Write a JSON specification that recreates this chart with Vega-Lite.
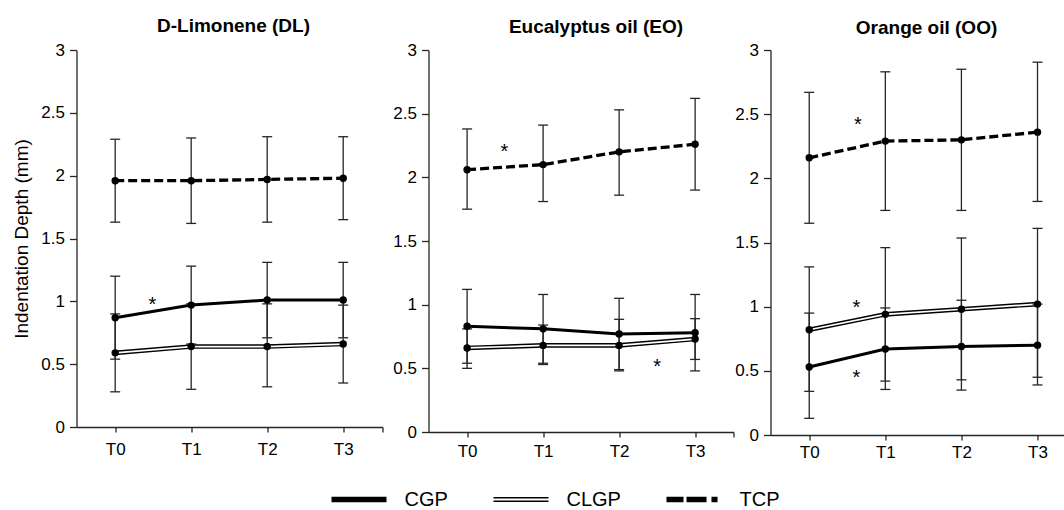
{
  "$schema": "https://vega.github.io/schema/vega-lite/v6.json",
  "background": "white",
  "padding": {"left": 12.5, "top": 17, "right": 0, "bottom": 0},
  "spacing": 0,
  "datasets": {
    "pts": [
      {"oil": "DL", "group": "CGP", "t": 0, "mean": 0.87, "lo": 0.54, "hi": 1.20},
      {"oil": "DL", "group": "CGP", "t": 1, "mean": 0.97, "lo": 0.66, "hi": 1.28},
      {"oil": "DL", "group": "CGP", "t": 2, "mean": 1.01, "lo": 0.71, "hi": 1.31},
      {"oil": "DL", "group": "CGP", "t": 3, "mean": 1.01, "lo": 0.71, "hi": 1.31},
      {"oil": "DL", "group": "CLGP", "t": 0, "mean": 0.59, "lo": 0.28, "hi": 0.90},
      {"oil": "DL", "group": "CLGP", "t": 1, "mean": 0.64, "lo": 0.30, "hi": 0.98},
      {"oil": "DL", "group": "CLGP", "t": 2, "mean": 0.64, "lo": 0.32, "hi": 0.98},
      {"oil": "DL", "group": "CLGP", "t": 3, "mean": 0.66, "lo": 0.35, "hi": 0.97},
      {"oil": "DL", "group": "TCP", "t": 0, "mean": 1.96, "lo": 1.63, "hi": 2.29},
      {"oil": "DL", "group": "TCP", "t": 1, "mean": 1.96, "lo": 1.62, "hi": 2.30},
      {"oil": "DL", "group": "TCP", "t": 2, "mean": 1.97, "lo": 1.63, "hi": 2.31},
      {"oil": "DL", "group": "TCP", "t": 3, "mean": 1.98, "lo": 1.65, "hi": 2.31},
      {"oil": "EO", "group": "CGP", "t": 0, "mean": 0.83, "lo": 0.54, "hi": 1.12},
      {"oil": "EO", "group": "CGP", "t": 1, "mean": 0.81, "lo": 0.54, "hi": 1.08},
      {"oil": "EO", "group": "CGP", "t": 2, "mean": 0.77, "lo": 0.48, "hi": 1.05},
      {"oil": "EO", "group": "CGP", "t": 3, "mean": 0.78, "lo": 0.48, "hi": 1.08},
      {"oil": "EO", "group": "CLGP", "t": 0, "mean": 0.66, "lo": 0.50, "hi": 0.81},
      {"oil": "EO", "group": "CLGP", "t": 1, "mean": 0.68, "lo": 0.53, "hi": 0.84},
      {"oil": "EO", "group": "CLGP", "t": 2, "mean": 0.68, "lo": 0.49, "hi": 0.885},
      {"oil": "EO", "group": "CLGP", "t": 3, "mean": 0.73, "lo": 0.57, "hi": 0.89},
      {"oil": "EO", "group": "TCP", "t": 0, "mean": 2.06, "lo": 1.75, "hi": 2.38},
      {"oil": "EO", "group": "TCP", "t": 1, "mean": 2.10, "lo": 1.81, "hi": 2.41},
      {"oil": "EO", "group": "TCP", "t": 2, "mean": 2.20, "lo": 1.86, "hi": 2.53},
      {"oil": "EO", "group": "TCP", "t": 3, "mean": 2.26, "lo": 1.90, "hi": 2.62},
      {"oil": "OO", "group": "CGP", "t": 0, "mean": 0.53, "lo": 0.13, "hi": 0.95},
      {"oil": "OO", "group": "CGP", "t": 1, "mean": 0.67, "lo": 0.355, "hi": 0.99},
      {"oil": "OO", "group": "CGP", "t": 2, "mean": 0.69, "lo": 0.35, "hi": 1.05},
      {"oil": "OO", "group": "CGP", "t": 3, "mean": 0.70, "lo": 0.39, "hi": 1.02},
      {"oil": "OO", "group": "CLGP", "t": 0, "mean": 0.82, "lo": 0.34, "hi": 1.31},
      {"oil": "OO", "group": "CLGP", "t": 1, "mean": 0.94, "lo": 0.42, "hi": 1.46},
      {"oil": "OO", "group": "CLGP", "t": 2, "mean": 0.98, "lo": 0.43, "hi": 1.535},
      {"oil": "OO", "group": "CLGP", "t": 3, "mean": 1.02, "lo": 0.45, "hi": 1.61},
      {"oil": "OO", "group": "TCP", "t": 0, "mean": 2.16, "lo": 1.65, "hi": 2.67},
      {"oil": "OO", "group": "TCP", "t": 1, "mean": 2.29, "lo": 1.75, "hi": 2.83},
      {"oil": "OO", "group": "TCP", "t": 2, "mean": 2.30, "lo": 1.75, "hi": 2.85},
      {"oil": "OO", "group": "TCP", "t": 3, "mean": 2.36, "lo": 1.82, "hi": 2.905}
    ],
    "stars": [
      {"oil": "DL", "t": 0.49, "y": 1.02, "label": "*"},
      {"oil": "EO", "t": 0.49, "y": 2.25, "label": "*"},
      {"oil": "EO", "t": 2.5, "y": 0.56, "label": "*"},
      {"oil": "OO", "t": 0.64, "y": 2.46, "label": "*"},
      {"oil": "OO", "t": 0.62, "y": 1.04, "label": "*"},
      {"oil": "OO", "t": 0.62, "y": 0.49, "label": "*"}
    ]
  },
  "hconcat": [
    {
      "width": 306, "height": 377,
      "title": {"text": "D-Limonene (DL)", "dx": 4, "offset": 5},
      "data": {"name": "pts"},
      "transform": [{"filter": "datum.oil === 'DL'"}],
      "encoding": {"x": {"field": "t", "type": "quantitative", "scale": {"domain": [-0.509, 3.517], "nice": false, "zero": false}, "axis": {"title": null, "values": [0, 1, 2, 3, 3.517], "labelExpr": "datum.value > 3.2 ? '' : 'T' + datum.value", "tickSize": 5, "labelPadding": 9, "labelFlush": false}}},
      "layer": [
        {"transform": [{"filter": "datum.group === 'CGP'"}], "mark": {"type": "line", "color": "black", "strokeWidth": 3},
         "encoding": {"y": {"field": "mean", "type": "quantitative", "title": "Indentation Depth (mm)", "scale": {"domain": [0, 3], "nice": false}, "axis": {"values": [0, 0.5, 1, 1.5, 2, 2.5, 3], "format": "~g", "tickSize": 7, "labelPadding": 5, "minExtent": 38, "maxExtent": 38, "titlePadding": 7, "titleFontSize": 19, "titleFontWeight": "normal"}}}},
        {"transform": [{"filter": "datum.group === 'TCP'"}], "mark": {"type": "line", "color": "black", "strokeWidth": 3.3, "strokeDash": [9, 4]}, "encoding": {"y": {"field": "mean", "type": "quantitative", "title": "Indentation Depth (mm)"}}},
        {"transform": [{"filter": "datum.group === 'CLGP'"}], "mark": {"type": "line", "color": "black", "strokeWidth": 4.6}, "encoding": {"y": {"field": "mean", "type": "quantitative", "title": "Indentation Depth (mm)"}}},
        {"transform": [{"filter": "datum.group === 'CLGP'"}], "mark": {"type": "line", "color": "white", "strokeWidth": 1.7}, "encoding": {"y": {"field": "mean", "type": "quantitative", "title": "Indentation Depth (mm)"}}},
        {"mark": {"type": "rule", "color": "#262626", "strokeWidth": 1.3}, "encoding": {"y": {"field": "lo", "type": "quantitative", "title": "Indentation Depth (mm)"}, "y2": {"field": "hi"}}},
        {"mark": {"type": "tick", "color": "#262626", "thickness": 1.3, "size": 10, "orient": "horizontal", "opacity": 1}, "encoding": {"y": {"field": "lo", "type": "quantitative", "title": "Indentation Depth (mm)"}}},
        {"mark": {"type": "tick", "color": "#262626", "thickness": 1.3, "size": 10, "orient": "horizontal", "opacity": 1}, "encoding": {"y": {"field": "hi", "type": "quantitative", "title": "Indentation Depth (mm)"}}},
        {"mark": {"type": "point", "filled": true, "color": "black", "strokeWidth": 0, "opacity": 0},
         "encoding": {
           "y": {"field": "mean", "type": "quantitative", "title": "Indentation Depth (mm)"},
           "shape": {"field": "group", "type": "nominal",
             "scale": {"domain": ["CGP", "CLGP", "TCP"], "range": ["M-1,-0.1H1V0.1H-1Z", "M-1,-0.095H1V-0.04H-1ZM-1,0.04H1V0.095H-1Z", "M-1,-0.1H-0.382V0.1H-1ZM-0.273,-0.1H0.455V0.1H-0.273ZM0.636,-0.1H0.855V0.1H0.636Z"]},
             "legend": {"orient": "none", "legendX": 255, "legendY": 422, "direction": "horizontal", "gridAlign": "none", "title": null, "padding": 0, "symbolSize": 3025, "symbolFillColor": "black", "symbolStrokeWidth": 0, "symbolOpacity": 1, "labelFontSize": 20, "labelColor": "black", "labelFont": "Liberation Sans", "labelOffset": 18, "columnPadding": 45}}
         }},
        {"mark": {"type": "circle", "color": "black", "size": 55, "opacity": 1}, "encoding": {"y": {"field": "mean", "type": "quantitative", "title": "Indentation Depth (mm)"}}},
        {"data": {"name": "stars"}, "transform": [{"filter": "datum.oil === 'DL'"}], "mark": {"type": "text", "fontSize": 20, "baseline": "middle", "dy": 6, "color": "black"}, "encoding": {"y": {"field": "y", "type": "quantitative", "title": "Indentation Depth (mm)"}, "text": {"field": "label"}}}
      ]
    },
    {
      "width": 305, "height": 382,
      "title": {"text": "Eucalyptus oil (EO)", "dx": 15, "offset": 4},
      "data": {"name": "pts"},
      "transform": [{"filter": "datum.oil === 'EO'"}],
      "encoding": {"x": {"field": "t", "type": "quantitative", "scale": {"domain": [-0.508, 3.505], "nice": false, "zero": false}, "axis": {"title": null, "values": [0, 1, 2, 3, 3.505], "labelExpr": "datum.value > 3.2 ? '' : 'T' + datum.value", "tickSize": 5, "labelPadding": 6, "labelFlush": false}}},
      "layer": [
        {"transform": [{"filter": "datum.group === 'CGP'"}], "mark": {"type": "line", "color": "black", "strokeWidth": 3},
         "encoding": {"y": {"field": "mean", "type": "quantitative", "title": null, "scale": {"domain": [0, 3], "nice": false}, "axis": {"title": null, "values": [0, 0.5, 1, 1.5, 2, 2.5, 3], "format": "~g", "tickSize": 7, "labelPadding": 5, "minExtent": 45, "maxExtent": 45}}}},
        {"transform": [{"filter": "datum.group === 'TCP'"}], "mark": {"type": "line", "color": "black", "strokeWidth": 3.3, "strokeDash": [9, 4]}, "encoding": {"y": {"field": "mean", "type": "quantitative", "title": null}}},
        {"transform": [{"filter": "datum.group === 'CLGP'"}], "mark": {"type": "line", "color": "black", "strokeWidth": 4.6}, "encoding": {"y": {"field": "mean", "type": "quantitative", "title": null}}},
        {"transform": [{"filter": "datum.group === 'CLGP'"}], "mark": {"type": "line", "color": "white", "strokeWidth": 1.7}, "encoding": {"y": {"field": "mean", "type": "quantitative", "title": null}}},
        {"mark": {"type": "rule", "color": "#262626", "strokeWidth": 1.3}, "encoding": {"y": {"field": "lo", "type": "quantitative", "title": null}, "y2": {"field": "hi"}}},
        {"mark": {"type": "tick", "color": "#262626", "thickness": 1.3, "size": 10, "orient": "horizontal", "opacity": 1}, "encoding": {"y": {"field": "lo", "type": "quantitative", "title": null}}},
        {"mark": {"type": "tick", "color": "#262626", "thickness": 1.3, "size": 10, "orient": "horizontal", "opacity": 1}, "encoding": {"y": {"field": "hi", "type": "quantitative", "title": null}}},
        {"mark": {"type": "circle", "color": "black", "size": 55, "opacity": 1}, "encoding": {"y": {"field": "mean", "type": "quantitative", "title": null}}},
        {"data": {"name": "stars"}, "transform": [{"filter": "datum.oil === 'EO'"}], "mark": {"type": "text", "fontSize": 20, "baseline": "middle", "dy": 6, "color": "black"}, "encoding": {"y": {"field": "y", "type": "quantitative", "title": null}, "text": {"field": "label"}}}
      ]
    },
    {
      "width": 296, "height": 385,
      "title": {"text": "Orange oil (OO)", "dx": 8, "offset": 3},
      "data": {"name": "pts"},
      "transform": [{"filter": "datum.oil === 'OO'"}],
      "encoding": {"x": {"field": "t", "type": "quantitative", "scale": {"domain": [-0.509, 3.381], "nice": false, "zero": false}, "axis": {"title": null, "values": [0, 1, 2, 3], "labelExpr": "'T' + datum.value", "tickSize": 5, "labelPadding": 4, "labelFlush": false}}},
      "layer": [
        {"transform": [{"filter": "datum.group === 'CGP'"}], "mark": {"type": "line", "color": "black", "strokeWidth": 3},
         "encoding": {"y": {"field": "mean", "type": "quantitative", "title": null, "scale": {"domain": [0, 3], "nice": false}, "axis": {"title": null, "values": [0, 0.5, 1, 1.5, 2, 2.5, 3], "format": "~g", "tickSize": 7, "labelPadding": 5, "minExtent": 34, "maxExtent": 34}}}},
        {"transform": [{"filter": "datum.group === 'TCP'"}], "mark": {"type": "line", "color": "black", "strokeWidth": 3.3, "strokeDash": [9, 4]}, "encoding": {"y": {"field": "mean", "type": "quantitative", "title": null}}},
        {"transform": [{"filter": "datum.group === 'CLGP'"}], "mark": {"type": "line", "color": "black", "strokeWidth": 4.6}, "encoding": {"y": {"field": "mean", "type": "quantitative", "title": null}}},
        {"transform": [{"filter": "datum.group === 'CLGP'"}], "mark": {"type": "line", "color": "white", "strokeWidth": 1.7}, "encoding": {"y": {"field": "mean", "type": "quantitative", "title": null}}},
        {"mark": {"type": "rule", "color": "#262626", "strokeWidth": 1.3}, "encoding": {"y": {"field": "lo", "type": "quantitative", "title": null}, "y2": {"field": "hi"}}},
        {"mark": {"type": "tick", "color": "#262626", "thickness": 1.3, "size": 10, "orient": "horizontal", "opacity": 1}, "encoding": {"y": {"field": "lo", "type": "quantitative", "title": null}}},
        {"mark": {"type": "tick", "color": "#262626", "thickness": 1.3, "size": 10, "orient": "horizontal", "opacity": 1}, "encoding": {"y": {"field": "hi", "type": "quantitative", "title": null}}},
        {"mark": {"type": "circle", "color": "black", "size": 55, "opacity": 1}, "encoding": {"y": {"field": "mean", "type": "quantitative", "title": null}}},
        {"data": {"name": "stars"}, "transform": [{"filter": "datum.oil === 'OO'"}], "mark": {"type": "text", "fontSize": 20, "baseline": "middle", "dy": 6, "color": "black"}, "encoding": {"y": {"field": "y", "type": "quantitative", "title": null}, "text": {"field": "label"}}}
      ]
    }
  ],
  "resolve": {"scale": {"x": "independent", "y": "independent", "shape": "shared"}, "axis": {"x": "independent", "y": "independent"}, "legend": {"shape": "shared"}},
  "config": {
    "font": "Liberation Sans",
    "view": {"stroke": null},
    "axis": {"grid": false, "domainColor": "#262626", "domainWidth": 1.3, "tickColor": "#262626", "tickWidth": 1.3, "labelColor": "black", "labelFont": "Liberation Sans", "labelFontSize": 17, "titleColor": "black", "titleFont": "Liberation Sans"},
    "title": {"font": "Liberation Sans", "fontSize": 19, "fontWeight": "bold", "color": "black"}
  }
}
